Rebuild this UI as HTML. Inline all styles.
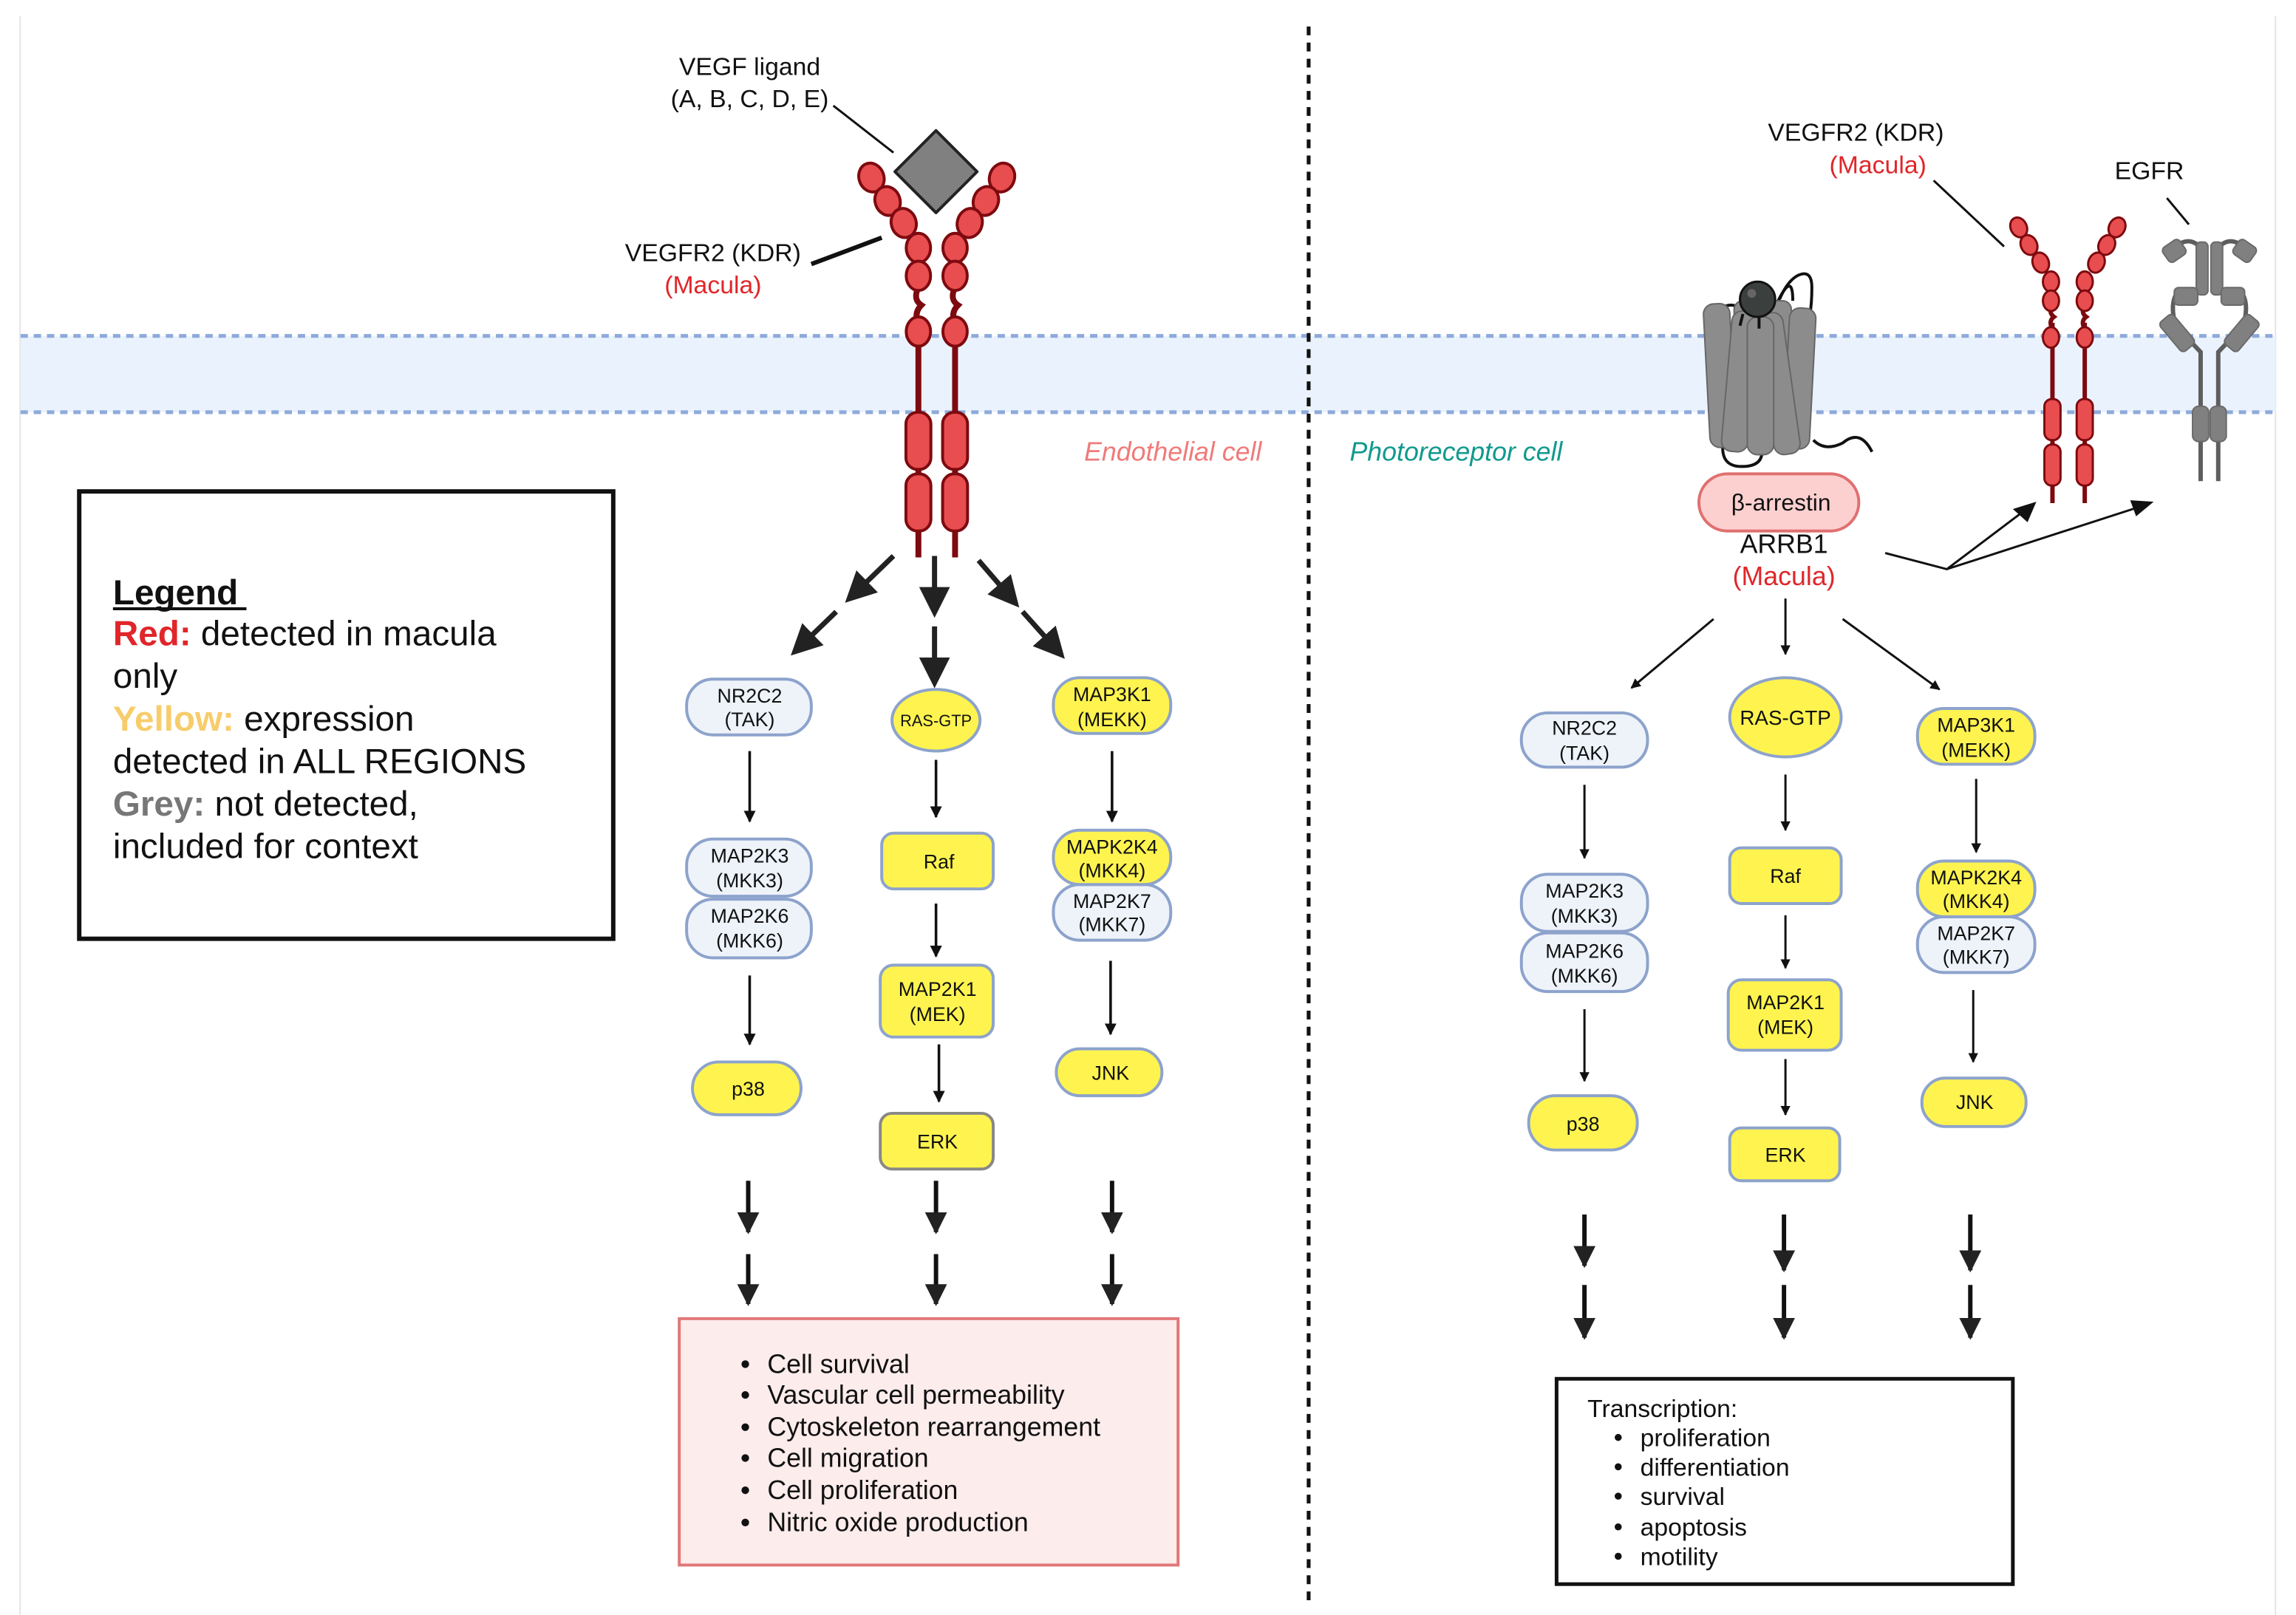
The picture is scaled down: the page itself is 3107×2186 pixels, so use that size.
<!DOCTYPE html>
<html><head><meta charset="utf-8"><style>
html,body{margin:0;padding:0;background:#fff;}
svg{display:block;}
text{font-family:"Liberation Sans",sans-serif;}
</style></head><body>
<svg width="3107" height="2186" viewBox="0 0 1565 1101" xmlns="http://www.w3.org/2000/svg">
<defs>
<marker id="ah" viewBox="0 0 10 10" refX="9" refY="5" markerWidth="4.5" markerHeight="4.5" orient="auto"><path d="M0,0 L10,5 L0,10 z" fill="#111"/></marker>
<marker id="ahb" viewBox="0 0 10 10" refX="9" refY="5" markerWidth="5" markerHeight="5" orient="auto"><path d="M0,0 L10,5 L0,10 z" fill="#222"/></marker>
<marker id="ahbig" viewBox="0 0 10 10" refX="8" refY="5" markerWidth="6" markerHeight="6" orient="auto"><path d="M0,0 L10,5 L0,10 z" fill="#222"/></marker>
</defs>
<!-- faint page border -->
<line x1="13.7" y1="11" x2="13.7" y2="1101" stroke="#e4e4e4" stroke-width="1"/>
<line x1="1551" y1="11" x2="1551" y2="1101" stroke="#e4e4e4" stroke-width="1"/>
<!-- membrane -->
<rect x="14" y="229" width="1537" height="52" fill="#eaf3fd"/>
<line x1="14" y1="229" x2="1551" y2="229" stroke="#8eaadb" stroke-width="2.6" stroke-dasharray="5,4"/>
<line x1="14" y1="281" x2="1551" y2="281" stroke="#8eaadb" stroke-width="2.6" stroke-dasharray="5,4"/>
<!-- divider -->
<line x1="892" y1="18" x2="892" y2="1092" stroke="#111" stroke-width="2.6" stroke-dasharray="6,5"/>

<!-- LEFT RECEPTOR -->
<g stroke="#7d0a0f" stroke-width="2" fill="#e84d4f">
<line x1="626" y1="230" x2="626" y2="380" stroke-width="4"/>
<line x1="651" y1="230" x2="651" y2="380" stroke-width="4"/>
<path d="M626,196 q-4,8 2,12 q-6,6 -1,14" fill="none" stroke-width="4"/>
<path d="M651,196 q-4,8 2,12 q-6,6 -1,14" fill="none" stroke-width="4"/>
<ellipse cx="594" cy="121" rx="8.5" ry="10" transform="rotate(-20 594 121)"/>
<ellipse cx="605" cy="137" rx="8.5" ry="10" transform="rotate(-20 605 137)"/>
<ellipse cx="616" cy="152" rx="8.5" ry="10" transform="rotate(-15 616 152)"/>
<ellipse cx="626" cy="169" rx="8.3" ry="10"/>
<ellipse cx="626" cy="188" rx="8.3" ry="10"/>
<ellipse cx="626" cy="226" rx="8.3" ry="10"/>
<ellipse cx="683" cy="121" rx="8.5" ry="10" transform="rotate(20 683 121)"/>
<ellipse cx="672" cy="137" rx="8.5" ry="10" transform="rotate(20 672 137)"/>
<ellipse cx="661" cy="152" rx="8.5" ry="10" transform="rotate(15 661 152)"/>
<ellipse cx="651" cy="169" rx="8.3" ry="10"/>
<ellipse cx="651" cy="188" rx="8.3" ry="10"/>
<ellipse cx="651" cy="226" rx="8.3" ry="10"/>
<rect x="617.5" y="281" width="17" height="39" rx="8"/>
<rect x="617.5" y="323" width="17" height="39" rx="8"/>
<rect x="642.5" y="281" width="17" height="39" rx="8"/>
<rect x="642.5" y="323" width="17" height="39" rx="8"/>
</g>
<path d="M638,89 L666,117 L638,145 L610,117 z" fill="#808080" stroke="#222" stroke-width="2" stroke-linejoin="round"/>
<text x="511" y="51" font-size="17" text-anchor="middle" fill="#111">VEGF ligand</text>
<text x="511" y="73" font-size="17" text-anchor="middle" fill="#111">(A, B, C, D, E)</text>
<line x1="568" y1="72" x2="609" y2="104" stroke="#111" stroke-width="1.5"/>
<text x="486" y="178" font-size="17" text-anchor="middle" fill="#111">VEGFR2 (KDR)</text>
<text x="486" y="200" font-size="17" text-anchor="middle" fill="#e0262a">(Macula)</text>
<line x1="553" y1="180" x2="601" y2="162" stroke="#111" stroke-width="3"/>
<text x="860" y="314" font-size="18" font-style="italic" text-anchor="end" fill="#f07a7a">Endothelial cell</text>
<text x="920" y="314" font-size="18" font-style="italic" fill="#11998e">Photoreceptor cell</text>

<!-- big double arrows -->
<g stroke="#222" stroke-width="3.5" marker-end="url(#ahbig)">
<line x1="609" y1="379" x2="579" y2="408"/>
<line x1="570" y1="417" x2="542" y2="444"/>
<line x1="637" y1="379" x2="637" y2="417"/>
<line x1="637" y1="427" x2="637" y2="465"/>
<line x1="667" y1="382" x2="692" y2="411"/>
<line x1="697" y1="417" x2="723" y2="446"/>
</g>

<!-- LEFT PATHWAY -->
<g stroke="#8da3cc" stroke-width="2">
<rect x="468" y="463" width="85" height="38" rx="18" fill="#eef3fa"/>
<rect x="468" y="572" width="85" height="39" rx="18" fill="#eef3fa"/>
<rect x="468" y="613" width="85" height="40" rx="18" fill="#eef3fa"/>
<rect x="472" y="724" width="74" height="36" rx="18" fill="#fff44f"/>
<ellipse cx="638" cy="491" rx="30" ry="21" fill="#fff44f"/>
<rect x="601" y="568" width="76" height="38" rx="8" fill="#fff44f"/>
<rect x="600" y="658" width="77" height="49" rx="9" fill="#fff44f"/>
<rect x="600" y="759" width="77" height="38" rx="8" fill="#fff44f" stroke="#888"/>
<rect x="718" y="462" width="80" height="38" rx="18" fill="#fff44f"/>
<rect x="718" y="603" width="80" height="38" rx="18" fill="#eef3fa"/>
<rect x="718" y="566" width="80" height="37" rx="18" fill="#fff44f"/>
<rect x="720" y="715" width="72" height="32" rx="16" fill="#fff44f"/>
</g>
<g font-size="13.5" text-anchor="middle" fill="#111">
<text x="511" y="479">NR2C2</text><text x="511" y="495">(TAK)</text>
<text x="511" y="588">MAP2K3</text><text x="511" y="605">(MKK3)</text>
<text x="511" y="629">MAP2K6</text><text x="511" y="646">(MKK6)</text>
<text x="510" y="747">p38</text>
<text x="638" y="495" font-size="11">RAS-GTP</text>
<text x="640" y="592">Raf</text>
<text x="639" y="679">MAP2K1</text><text x="639" y="696">(MEK)</text>
<text x="639" y="783">ERK</text>
<text x="758" y="478">MAP3K1</text><text x="758" y="495">(MEKK)</text>
<text x="758" y="582">MAPK2K4</text><text x="758" y="598">(MKK4)</text>
<text x="758" y="619">MAP2K7</text><text x="758" y="635">(MKK7)</text>
<text x="757" y="736">JNK</text>
</g>
<g stroke="#111" stroke-width="1.8" marker-end="url(#ah)">
<line x1="511" y1="512" x2="511" y2="560"/>
<line x1="511" y1="665" x2="511" y2="712"/>
<line x1="638" y1="518" x2="638" y2="557"/>
<line x1="638" y1="616" x2="638" y2="652"/>
<line x1="640" y1="712" x2="640" y2="751"/>
<line x1="758" y1="512" x2="758" y2="560"/>
<line x1="757" y1="655" x2="757" y2="705"/>
</g>
<g stroke="#111" stroke-width="3" marker-end="url(#ahb)">
<line x1="510" y1="805" x2="510" y2="840"/><line x1="510" y1="855" x2="510" y2="889"/>
<line x1="638" y1="805" x2="638" y2="840"/><line x1="638" y1="855" x2="638" y2="889"/>
<line x1="758" y1="805" x2="758" y2="840"/><line x1="758" y1="855" x2="758" y2="889"/>
</g>
<rect x="463" y="899" width="340" height="168" fill="#fdecec" stroke="#e07878" stroke-width="2"/>
<g font-size="18" fill="#111">
<text x="523" y="936">Cell survival</text>
<text x="523" y="957">Vascular cell permeability</text>
<text x="523" y="979">Cytoskeleton rearrangement</text>
<text x="523" y="1000">Cell migration</text>
<text x="523" y="1022">Cell proliferation</text>
<text x="523" y="1044">Nitric oxide production</text>
</g>
<g fill="#111"><circle cx="508" cy="930" r="2.6"/><circle cx="508" cy="951" r="2.6"/><circle cx="508" cy="973" r="2.6"/><circle cx="508" cy="994" r="2.6"/><circle cx="508" cy="1016" r="2.6"/><circle cx="508" cy="1038" r="2.6"/></g>

<!-- LEGEND -->
<rect x="54" y="335" width="364" height="305" fill="#fff" stroke="#111" stroke-width="3"/>
<g font-size="24" fill="#111">
<text x="77" y="412" font-weight="bold">Legend</text>
<line x1="77" y1="415" x2="168" y2="415" stroke="#111" stroke-width="2"/>
<text x="77" y="440"><tspan fill="#e0262a" font-weight="bold">Red:</tspan> detected in macula</text>
<text x="77" y="469">only</text>
<text x="77" y="498"><tspan fill="#f7cd6b" font-weight="bold">Yellow:</tspan> expression</text>
<text x="77" y="527">detected in ALL REGIONS</text>
<text x="77" y="556"><tspan fill="#777" font-weight="bold">Grey:</tspan> not detected,</text>
<text x="77" y="585">included for context</text>
</g>

<!-- RIGHT: GPCR -->
<g stroke="#111" stroke-width="2" fill="none">
<path d="M1172,222 q-2,-14 8,-14 q8,0 6,14"/>
<path d="M1207,208 q4,4 2,16"/>
<path d="M1212,205 q10,-20 10,0"/>
<path d="M1213,204 q5,-12 12,-16 q10,-5 10,8 q0,20 -5,32"/>
<path d="M1175,298 q-4,20 12,20 q14,0 14,-10"/>
<path d="M1236,300 q8,8 20,2 q12,-10 20,6"/>
</g>
<g fill="#8c8c8c" stroke="#666" stroke-width="1">
<rect x="1182" y="205" width="16" height="88" rx="6"/>
<rect x="1205" y="205" width="16" height="90" rx="6"/>
<rect x="1163" y="207" width="18" height="98" rx="7" transform="rotate(-3 1172 250)"/>
<rect x="1218" y="210" width="18" height="96" rx="7" transform="rotate(3 1227 250)"/>
<rect x="1177" y="212" width="18" height="96" rx="7" transform="rotate(5 1186 260)"/>
<rect x="1203" y="213" width="18" height="97" rx="7" transform="rotate(-8 1212 260)"/>
<rect x="1191" y="216" width="18" height="94" rx="7"/>
</g>
<circle cx="1198" cy="204" r="12" fill="#3b3f3d" stroke="#111" stroke-width="1.5"/>
<circle cx="1194" cy="200" r="3" fill="#666"/>
<line x1="1188" y1="214" x2="1186" y2="222" stroke="#111" stroke-width="2"/>
<line x1="1199" y1="216" x2="1199" y2="224" stroke="#111" stroke-width="2"/>
<rect x="1158" y="323" width="109" height="39" rx="19.5" fill="#fdd0d0" stroke="#e07070" stroke-width="2"/>
<text x="1214" y="348" font-size="16" text-anchor="middle" fill="#111">β-arrestin</text>
<text x="1216" y="377" font-size="18" text-anchor="middle" fill="#111">ARRB1</text>
<text x="1216" y="399" font-size="18" text-anchor="middle" fill="#e0262a">(Macula)</text>
<g stroke="#111" stroke-width="1.5" fill="none">
<polyline points="1285,377 1327,388 1380,348"/>
<line x1="1327" y1="388" x2="1460" y2="345"/>
</g>
<path d="M1388,342 L1372,347 L1382,356 z" fill="#111"/>
<path d="M1468,342 L1452,341 L1456,352 z" fill="#111"/>

<!-- right VEGFR2 -->
<g stroke="#7d0a0f" stroke-width="1.5" fill="#e84d4f">
<line x1="1399" y1="220" x2="1399" y2="343" stroke-width="3"/>
<line x1="1421" y1="220" x2="1421" y2="343" stroke-width="3"/>
<path d="M1399,208 q-3,5 1,8 q-4,3 -1,8" fill="none" stroke-width="3"/>
<path d="M1421,208 q-3,5 1,8 q-4,3 -1,8" fill="none" stroke-width="3"/>
<ellipse cx="1376" cy="155" rx="5.5" ry="7" transform="rotate(-25 1376 155)"/>
<ellipse cx="1383" cy="167" rx="5.5" ry="7" transform="rotate(-25 1383 167)"/>
<ellipse cx="1391" cy="179" rx="5.5" ry="7" transform="rotate(-20 1391 179)"/>
<ellipse cx="1398" cy="192" rx="5.5" ry="7"/>
<ellipse cx="1398" cy="205" rx="5.5" ry="7"/>
<ellipse cx="1398" cy="230" rx="5.5" ry="7"/>
<ellipse cx="1443" cy="155" rx="5.5" ry="7" transform="rotate(25 1443 155)"/>
<ellipse cx="1436" cy="167" rx="5.5" ry="7" transform="rotate(25 1436 167)"/>
<ellipse cx="1429" cy="179" rx="5.5" ry="7" transform="rotate(20 1429 179)"/>
<ellipse cx="1421" cy="192" rx="5.5" ry="7"/>
<ellipse cx="1421" cy="205" rx="5.5" ry="7"/>
<ellipse cx="1421" cy="230" rx="5.5" ry="7"/>
<rect x="1393.5" y="272" width="11" height="28" rx="5"/>
<rect x="1393.5" y="303" width="11" height="28" rx="5"/>
<rect x="1415.5" y="272" width="11" height="28" rx="5"/>
<rect x="1415.5" y="303" width="11" height="28" rx="5"/>
</g>
<text x="1265" y="96" font-size="17" text-anchor="middle" fill="#111">VEGFR2 (KDR)</text>
<text x="1280" y="118" font-size="17" text-anchor="middle" fill="#e0262a">(Macula)</text>
<line x1="1318" y1="123" x2="1366" y2="168" stroke="#111" stroke-width="1.5"/>
<!-- EGFR -->
<text x="1465" y="122" font-size="17" text-anchor="middle" fill="#111">EGFR</text>
<line x1="1477" y1="135" x2="1492" y2="153" stroke="#111" stroke-width="1.5"/>
<g stroke="#5e5e5e" stroke-width="3" fill="none">
<path d="M1500,328 L1500,240 L1483,222 Q1478,205 1486,197"/>
<path d="M1512,328 L1512,240 L1529,222 Q1534,205 1526,197"/>
<path d="M1483,168 q10,-8 18,2"/>
<path d="M1529,168 q-10,-8 -18,2"/>
</g>
<g fill="#808080" stroke="#6a6a6a" stroke-width="1">
<rect x="1497" y="165" width="8" height="36" rx="3"/>
<rect x="1507" y="165" width="8" height="36" rx="3"/>
<rect x="1475" y="165" width="14" height="12" rx="3" transform="rotate(-35 1482 171)"/>
<rect x="1523" y="165" width="14" height="12" rx="3" transform="rotate(35 1530 171)"/>
<rect x="1482" y="196" width="16" height="12" rx="3"/>
<rect x="1514" y="196" width="16" height="12" rx="3"/>
<rect x="1478" y="214" width="12" height="26" rx="3" transform="rotate(-40 1484 227)"/>
<rect x="1522" y="214" width="12" height="26" rx="3" transform="rotate(40 1528 227)"/>
<rect x="1494.5" y="277" width="11" height="24" rx="4"/>
<rect x="1506.5" y="277" width="11" height="24" rx="4"/>
</g>

<!-- RIGHT PATHWAY -->
<g stroke="#111" stroke-width="1.5" marker-end="url(#ah)">
<line x1="1168" y1="422" x2="1112" y2="469"/>
<line x1="1217" y1="408" x2="1217" y2="446"/>
<line x1="1256" y1="422" x2="1322" y2="470"/>
<line x1="1080" y1="535" x2="1080" y2="585"/>
<line x1="1080" y1="688" x2="1080" y2="737"/>
<line x1="1217" y1="528" x2="1217" y2="566"/>
<line x1="1217" y1="624" x2="1217" y2="660"/>
<line x1="1217" y1="722" x2="1217" y2="760"/>
<line x1="1347" y1="531" x2="1347" y2="581"/>
<line x1="1345" y1="675" x2="1345" y2="724"/>
</g>
<g stroke="#8da3cc" stroke-width="2">
<rect x="1037" y="486" width="86" height="37" rx="18" fill="#eef3fa"/>
<rect x="1037" y="596" width="86" height="39" rx="18" fill="#eef3fa"/>
<rect x="1037" y="636" width="86" height="40" rx="18" fill="#eef3fa"/>
<rect x="1042" y="747" width="74" height="37" rx="18" fill="#fff44f"/>
<ellipse cx="1217" cy="489" rx="38" ry="27" fill="#fff44f"/>
<rect x="1179" y="578" width="76" height="38" rx="8" fill="#fff44f"/>
<rect x="1178" y="668" width="77" height="48" rx="9" fill="#fff44f"/>
<rect x="1179" y="769" width="75" height="36" rx="8" fill="#fff44f"/>
<rect x="1307" y="483" width="80" height="38" rx="18" fill="#fff44f"/>
<rect x="1307" y="625" width="80" height="38" rx="18" fill="#eef3fa"/>
<rect x="1307" y="587" width="80" height="38" rx="18" fill="#fff44f"/>
<rect x="1310" y="735" width="71" height="33" rx="16" fill="#fff44f"/>
</g>
<g font-size="13.5" text-anchor="middle" fill="#111">
<text x="1080" y="501">NR2C2</text><text x="1080" y="518">(TAK)</text>
<text x="1080" y="612">MAP2K3</text><text x="1080" y="629">(MKK3)</text>
<text x="1080" y="653">MAP2K6</text><text x="1080" y="670">(MKK6)</text>
<text x="1079" y="771">p38</text>
<text x="1217" y="494" font-size="14">RAS-GTP</text>
<text x="1217" y="602">Raf</text>
<text x="1217" y="688">MAP2K1</text><text x="1217" y="705">(MEK)</text>
<text x="1217" y="792">ERK</text>
<text x="1347" y="499">MAP3K1</text><text x="1347" y="516">(MEKK)</text>
<text x="1347" y="603">MAPK2K4</text><text x="1347" y="619">(MKK4)</text>
<text x="1347" y="641">MAP2K7</text><text x="1347" y="657">(MKK7)</text>
<text x="1346" y="756">JNK</text>
</g>
<g stroke="#111" stroke-width="3" marker-end="url(#ahb)">
<line x1="1080" y1="828" x2="1080" y2="863"/><line x1="1080" y1="876" x2="1080" y2="912"/>
<line x1="1216" y1="828" x2="1216" y2="866"/><line x1="1216" y1="876" x2="1216" y2="912"/>
<line x1="1343" y1="828" x2="1343" y2="866"/><line x1="1343" y1="876" x2="1343" y2="912"/>
</g>
<rect x="1061" y="940" width="311" height="140" fill="#fff" stroke="#111" stroke-width="2.5"/>
<g font-size="17" fill="#111">
<text x="1082" y="966">Transcription:</text>
<text x="1118" y="986">proliferation</text>
<text x="1118" y="1006">differentiation</text>
<text x="1118" y="1026">survival</text>
<text x="1118" y="1047">apoptosis</text>
<text x="1118" y="1067">motility</text>
</g>
<g fill="#111"><circle cx="1103" cy="980" r="2.4"/><circle cx="1103" cy="1000" r="2.4"/><circle cx="1103" cy="1020" r="2.4"/><circle cx="1103" cy="1041" r="2.4"/><circle cx="1103" cy="1061" r="2.4"/></g>
</svg>
</body></html>
